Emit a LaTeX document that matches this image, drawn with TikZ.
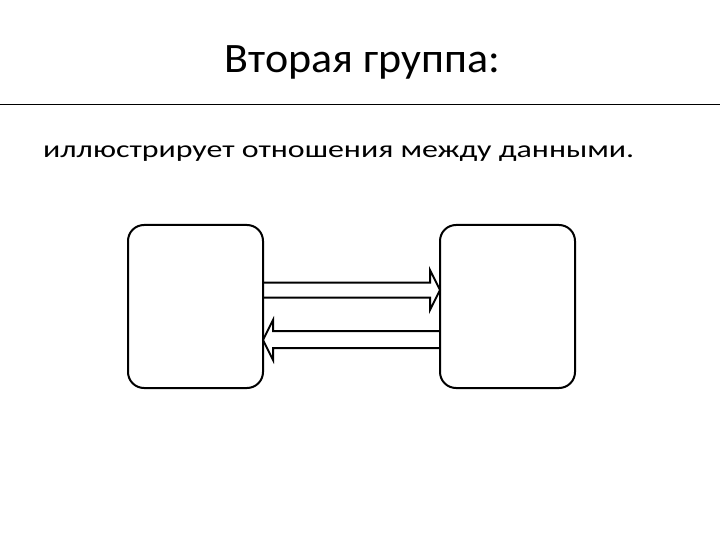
\documentclass[tikz,border=0pt]{standalone}
\usepackage{fontspec}
\setmainfont{Carlito}
\usetikzlibrary{calc}
\begin{document}
\begin{tikzpicture}[x=1bp,y=-1bp,
  box/.style={draw=black,line width=2bp,rounded corners=16bp,minimum width=135bp,minimum height=163bp,inner sep=0pt,outer sep=0pt},
  blockarrow/.style={draw=black,line width=2bp,line join=miter}]
\useasboundingbox (0,0) rectangle (720,540);
\node[anchor=base,inner sep=0pt,font=\fontsize{42}{46}\selectfont] (title) at (362.5,73) {\resizebox{275bp}{\height}{Вторая группа:}};
\coordinate (l1) at (0,105);
\coordinate (l2) at (720,105);
\draw[line width=1bp] (l1) -- (l2);
\node[anchor=base west,inner sep=0pt,font=\fontsize{24.2}{28}\selectfont] (body) at (43,157.5) {\resizebox{591bp}{\height}{иллюстрирует отношения между данными.}};
\node[box] (a) at (195.5,306.5) {};
\node[box] (b) at (507.5,306.5) {};
% upper arrow a -> b
\draw[blockarrow] ($(a.east)+(0,-24)$) -- ($(b.west)+(-10,-24)$) -- ($(b.west)+(-10,-36.5)$) -- ($(b.west)+(0,-16.5)$) -- ($(b.west)+(-10,3.5)$) -- ($(b.west)+(-10,-9)$) -- ($(a.east)+(0,-9)$);
% lower arrow b -> a
\draw[blockarrow] ($(b.west)+(0,24.5)$) -- ($(a.east)+(10,24.5)$) -- ($(a.east)+(10,13.5)$) -- ($(a.east)+(0,33.5)$) -- ($(a.east)+(10,53.5)$) -- ($(a.east)+(10,41.5)$) -- ($(b.west)+(0,41.5)$);
\end{tikzpicture}
\end{document}
